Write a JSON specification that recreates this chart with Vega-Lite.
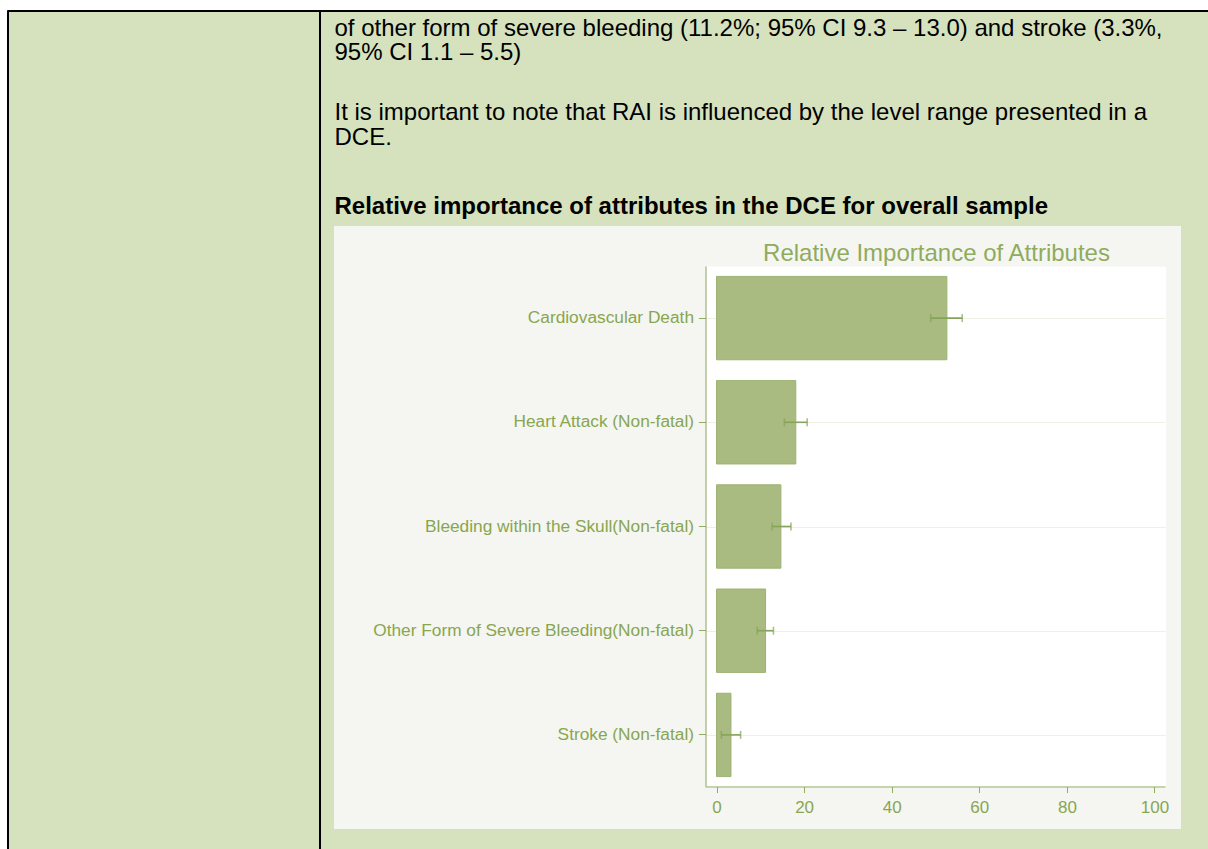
{
  "$schema": "https://vega.github.io/schema/vega-lite/v6.json",
  "width": 847,
  "height": 603,
  "autosize": {"type": "none"},
  "padding": {"left": 334, "top": 226, "right": 27, "bottom": 20},
  "background": "#d6e2bd",
  "config": {
    "view": {"fill": "#f5f6f1", "stroke": null},
    "font": "Liberation Sans",
    "axis": {"titleFont": "Liberation Sans", "labelFont": "Liberation Sans"}
  },
  "data": {
    "values": [
      {"attribute": "Cardiovascular Death", "value": 52.6, "lo": 48.9, "hi": 56.1},
      {"attribute": "Heart Attack (Non-fatal)", "value": 18.1, "lo": 15.5, "hi": 20.7},
      {"attribute": "Bleeding within the Skull(Non-fatal)", "value": 14.7, "lo": 12.7, "hi": 17.0},
      {"attribute": "Other Form of Severe Bleeding(Non-fatal)", "value": 11.2, "lo": 9.3, "hi": 13.0},
      {"attribute": "Stroke (Non-fatal)", "value": 3.3, "lo": 1.1, "hi": 5.5}
    ]
  },
  "resolve": {
    "scale": {"x": "independent", "y": "independent"},
    "axis": {"x": "independent", "y": "independent"}
  },
  "layer": [
    {
      "mark": {"type": "bar", "fill": "#a9bb81", "stroke": "#9db273", "strokeWidth": 1},
      "encoding": {
        "y": {
          "field": "attribute", "type": "nominal", "sort": null,
          "scale": {
            "domain": ["Cardiovascular Death", "Heart Attack (Non-fatal)", "Bleeding within the Skull(Non-fatal)", "Other Form of Severe Bleeding(Non-fatal)", "Stroke (Non-fatal)"],
            "range": [40, 561], "paddingInner": 0.2, "paddingOuter": 0.1
          },
          "axis": {
            "orient": "left", "offset": -371.5, "title": null, "grid": false,
            "domainColor": "#8fab5e", "domainWidth": 1, "tickColor": "#8fab5e", "tickSize": 7, "tickWidth": 1,
            "labelPadding": 5, "labelFontSize": 17.3, "labelColor": "#88a650", "labelLimit": 0
          }
        },
        "x": {
          "field": "value", "type": "quantitative",
          "scale": {"domain": [-2.4, 102.4], "range": [372, 831], "nice": false, "zero": false},
          "axis": {
            "orient": "bottom", "offset": -42.5, "values": [0, 20, 40, 60, 80, 100], "title": null, "grid": false,
            "domainColor": "#8fab5e", "domainWidth": 1, "tickColor": "#8fab5e", "tickSize": 6, "tickWidth": 1,
            "labelPadding": 7, "labelFontSize": 17, "labelColor": "#88a650", "labelFlush": false
          }
        }
      }
    },
    {
      "mark": {"type": "rule", "color": "#86a35a", "strokeWidth": 1.6},
      "encoding": {
        "y": {
          "field": "attribute", "type": "nominal", "sort": null,
          "scale": {
            "domain": ["Cardiovascular Death", "Heart Attack (Non-fatal)", "Bleeding within the Skull(Non-fatal)", "Other Form of Severe Bleeding(Non-fatal)", "Stroke (Non-fatal)"],
            "range": [40, 561], "paddingInner": 0.2, "paddingOuter": 0.1
          },
          "axis": null
        },
        "x": {
          "field": "lo", "type": "quantitative",
          "scale": {"domain": [-2.4, 102.4], "range": [372, 831], "nice": false, "zero": false},
          "axis": null
        },
        "x2": {"field": "hi"}
      }
    },
    {
      "mark": {"type": "tick", "color": "#86a35a", "thickness": 1.6, "size": 8},
      "encoding": {
        "y": {
          "field": "attribute", "type": "nominal", "sort": null,
          "scale": {
            "domain": ["Cardiovascular Death", "Heart Attack (Non-fatal)", "Bleeding within the Skull(Non-fatal)", "Other Form of Severe Bleeding(Non-fatal)", "Stroke (Non-fatal)"],
            "range": [40, 561], "paddingInner": 0.2, "paddingOuter": 0.1
          },
          "axis": null
        },
        "x": {
          "field": "lo", "type": "quantitative",
          "scale": {"domain": [-2.4, 102.4], "range": [372, 831], "nice": false, "zero": false},
          "axis": null
        }
      }
    },
    {
      "mark": {"type": "tick", "color": "#86a35a", "thickness": 1.6, "size": 8},
      "encoding": {
        "y": {
          "field": "attribute", "type": "nominal", "sort": null,
          "scale": {
            "domain": ["Cardiovascular Death", "Heart Attack (Non-fatal)", "Bleeding within the Skull(Non-fatal)", "Other Form of Severe Bleeding(Non-fatal)", "Stroke (Non-fatal)"],
            "range": [40, 561], "paddingInner": 0.2, "paddingOuter": 0.1
          },
          "axis": null
        },
        "x": {
          "field": "hi", "type": "quantitative",
          "scale": {"domain": [-2.4, 102.4], "range": [372, 831], "nice": false, "zero": false},
          "axis": null
        }
      }
    },
    {
      "mark": {"type": "point", "opacity": 0},
      "encoding": {
        "y": {
          "field": "attribute", "type": "nominal", "sort": null,
          "scale": {
            "domain": ["Cardiovascular Death", "Heart Attack (Non-fatal)", "Bleeding within the Skull(Non-fatal)", "Other Form of Severe Bleeding(Non-fatal)", "Stroke (Non-fatal)"],
            "range": [40, 561], "paddingInner": 0.2, "paddingOuter": 0.1
          },
          "axis": {
            "orient": "left", "offset": 0, "grid": true, "gridColor": "#edf1e5", "gridWidth": 1,
            "domain": false, "ticks": false, "labels": false, "title": null
          }
        },
        "x": {
          "field": "value", "type": "quantitative",
          "scale": {"domain": [-2.4, 102.4], "range": [372, 831], "nice": false, "zero": false},
          "axis": {
            "orient": "top", "offset": 0, "values": [50], "grid": true, "gridColor": "#ffffff", "gridWidth": 459,
            "domain": false, "ticks": false, "labels": false,
            "title": "Relative Importance of Attributes", "titleX": 602, "titleY": 34,
            "titleAlign": "center", "titleBaseline": "alphabetic", "titleFontSize": 24,
            "titleFontWeight": "normal", "titleColor": "#8fab5e"
          }
        }
      }
    },
    {
      "mark": {"type": "point", "opacity": 0},
      "encoding": {
        "x": {
          "field": "value", "type": "quantitative",
          "scale": {"domain": [0, 100], "range": [-327, 900], "nice": false, "zero": false},
          "axis": {
            "orient": "top", "offset": 215.5, "domainColor": "#000000", "domainWidth": 2,
            "ticks": false, "labels": false, "grid": false,
            "title": ["of other form of severe bleeding (11.2%; 95% CI 9.3 – 13.0) and stroke (3.3%,", "95% CI 1.1 – 5.5)"],
            "titleX": 0, "titleY": 24.5, "titleAlign": "left", "titleBaseline": "alphabetic",
            "titleFontSize": 24, "titleFontWeight": "normal", "titleColor": "#000000", "titleLineHeight": 24.5
          }
        },
        "y": {
          "field": "value", "type": "quantitative",
          "scale": {"domain": [0, 100], "range": [-216, 674], "nice": false, "zero": false},
          "axis": {
            "orient": "left", "offset": 326.5, "domainColor": "#000000", "domainWidth": 2,
            "ticks": false, "labels": false, "grid": false,
            "title": ["It is important to note that RAI is influenced by the level range presented in a", "DCE."],
            "titleX": 326.5, "titleY": -106.5, "titleAngle": 0, "titleAlign": "left", "titleBaseline": "alphabetic",
            "titleFontSize": 24, "titleFontWeight": "normal", "titleColor": "#000000", "titleLineHeight": 24.5
          }
        }
      }
    },
    {
      "mark": {"type": "point", "opacity": 0},
      "encoding": {
        "x": {
          "field": "value", "type": "quantitative",
          "scale": {"domain": [0, 100], "range": [-334, 900], "nice": false, "zero": false},
          "axis": {
            "orient": "top", "offset": 226, "domainColor": "#ffffff", "domainWidth": 19,
            "ticks": false, "labels": false, "grid": false, "title": null
          }
        },
        "y": {
          "field": "value", "type": "quantitative",
          "scale": {"domain": [0, 100], "range": [-216, 674], "nice": false, "zero": false},
          "axis": {
            "orient": "left", "offset": 14.5, "domainColor": "#000000", "domainWidth": 2,
            "ticks": false, "labels": false, "grid": false,
            "title": "Relative importance of attributes in the DCE for overall sample",
            "titleX": 14.5, "titleY": -12.5, "titleAngle": 0, "titleAlign": "left", "titleBaseline": "alphabetic",
            "titleFontSize": 24, "titleFontWeight": "bold", "titleColor": "#000000"
          }
        }
      }
    },
    {
      "mark": {"type": "point", "opacity": 0},
      "encoding": {
        "x": {
          "field": "value", "type": "quantitative",
          "scale": {"domain": [0, 100], "range": [0, 847], "nice": false, "zero": false},
          "axis": null
        },
        "y": {
          "field": "value", "type": "quantitative",
          "scale": {"domain": [0, 100], "range": [-226, 700], "nice": false, "zero": false},
          "axis": {
            "orient": "left", "offset": 334.5, "domainColor": "#ffffff", "domainWidth": 14,
            "ticks": false, "labels": false, "grid": false, "title": null
          }
        }
      }
    }
  ]
}
